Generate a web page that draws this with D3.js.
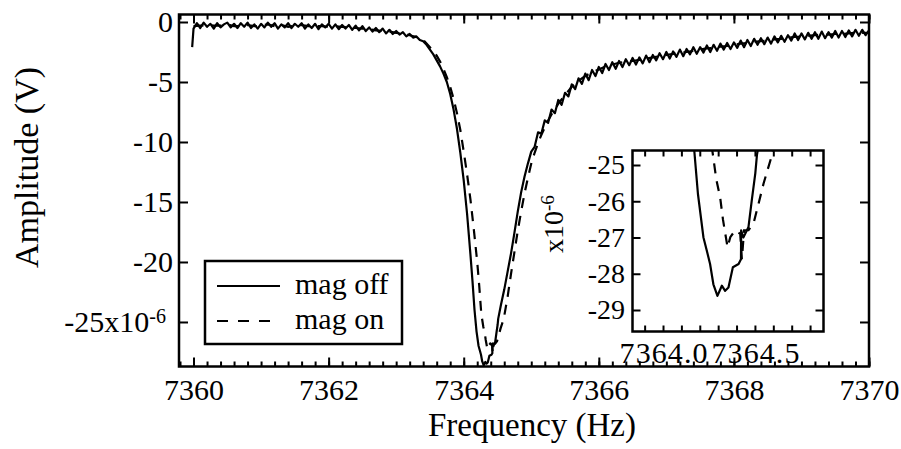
<!DOCTYPE html>
<html><head><meta charset="utf-8">
<script src="https://cdn.jsdelivr.net/npm/d3@7"></script>
<style>
body{margin:0;background:#fff}
svg{display:block}
svg text{font-family:"Liberation Serif","Times New Roman",serif}
</style>
</head><body>
<svg id="c" width="901" height="449"></svg>
<script>
// ---------- data ----------
const freqOff = [
7359.98,
7360.00,7360.05,7360.10,7360.15,7360.20,7360.25,7360.30,7360.35,7360.40,7360.45,
7360.50,7360.55,7360.60,7360.65,7360.70,7360.75,7360.80,7360.85,7360.90,7360.95,
7361.00,7361.05,7361.10,7361.15,7361.20,7361.25,7361.30,7361.35,7361.40,7361.45,
7361.50,7361.55,7361.60,7361.65,7361.70,7361.75,7361.80,7361.85,7361.90,7361.95,
7362.00,7362.05,7362.10,7362.15,7362.20,7362.25,7362.30,7362.35,7362.40,7362.45,
7362.50,7362.55,7362.60,7362.65,7362.70,7362.75,7362.80,7362.85,7362.90,7362.95,
7363.00,7363.05,7363.10,7363.15,7363.20,7363.25,7363.30,7363.35,7363.40,
7363.45,7363.50,7363.55,7363.60,7363.65,7363.70,7363.75,7363.80,7363.85,7363.90,
7363.95,7364.00,7364.05,7364.10,7364.13,7364.16,7364.19,7364.22,7364.24,7364.256,
7364.274,7364.296,7364.320,7364.338,7364.356,7364.380,7364.411,7364.424,7364.425,7364.437,
7364.447,7364.465,7364.483,7364.502,7364.511,7364.55,7364.60,7364.65,7364.70,7364.75,
7364.80,7364.85,7364.90,7364.95,7365.00,
7365.05,7365.10,7365.15,7365.20,7365.25,7365.30,7365.35,7365.40,7365.45,7365.50,
7365.55,7365.60,7365.65,7365.70,7365.75,7365.80,7365.85,7365.90,7365.95,7366.00,
7366.05,7366.10,7366.15,7366.20,7366.25,7366.30,7366.35,7366.40,7366.45,7366.50,
7366.55,7366.60,7366.65,7366.70,7366.75,7366.80,7366.85,7366.90,7366.95,7367.00,
7367.05,7367.10,7367.15,7367.20,7367.25,7367.30,7367.35,7367.40,7367.45,7367.50,
7367.55,7367.60,7367.65,7367.70,7367.75,7367.80,7367.85,7367.90,7367.95,7368.00,
7368.05,7368.10,7368.15,7368.20,7368.25,7368.30,7368.35,7368.40,7368.45,7368.50,
7368.55,7368.60,7368.65,7368.70,7368.75,7368.80,7368.85,7368.90,7368.95,7369.00,
7369.05,7369.10,7369.15,7369.20,7369.25,7369.30,7369.35,7369.40,7369.45,7369.50,
7369.55,7369.60,7369.65,7369.70,7369.75,7369.80,7369.85,7369.90,7369.95,7370.00
];
const ampOff = [
-2.1,
-0.55,-0.1,-0.5,-0.05,-0.4,-0.15,-0.55,-0.1,-0.45,-0.2,
-0.05,-0.45,-0.15,-0.5,-0.1,-0.4,-0.05,-0.5,-0.2,-0.55,
-0.15,-0.45,-0.05,-0.4,-0.1,-0.55,-0.2,-0.45,-0.1,-0.5,
-0.15,-0.4,-0.1,-0.55,-0.2,-0.5,-0.15,-0.6,-0.2,-0.45,
-0.15,-0.55,-0.2,-0.6,-0.25,-0.55,-0.25,-0.65,-0.3,-0.7,
-0.35,-0.75,-0.45,-0.8,-0.5,-0.85,-0.55,-0.95,-0.65,-1.0,
-0.75,-1.05,-0.85,-1.2,-1.0,-1.3,-1.2,-1.5,-1.6,
-1.9,-2.3,-2.7,-3.2,-3.7,-4.3,-5.0,-6.0,-7.3,-8.9,
-10.9,-13.2,-16.0,-19.4,-21.6,-24.0,-25.8,-27.0,-27.4,-27.73,
-28.29,-28.61,-28.33,-28.47,-28.38,-27.82,-27.73,-27.6,-26.8,-27.0,
-26.9,-26.71,-25.97,-25.23,-24.72,-23.6,-22.3,-20.8,-19.3,-17.6,
-15.8,-14.2,-12.9,-11.8,-10.8,
-10.4,-9.2,-9.3,-8.2,-8.4,-7.3,-7.6,-6.5,-6.9,-5.9,
-6.2,-5.2,-5.6,-4.7,-5.15,-4.3,-4.85,-4.0,-4.5,-3.75,
-4.25,-3.5,-4.0,-3.35,-3.9,-3.25,-3.75,-3.1,-3.6,-3.0,
-3.55,-2.95,-3.45,-2.8,-3.35,-2.75,-3.2,-2.6,-3.1,-2.5,
-3.05,-2.45,-2.9,-2.3,-2.85,-2.25,-2.7,-2.1,-2.65,-2.1,
-2.55,-1.95,-2.5,-1.9,-2.4,-1.8,-2.3,-1.75,-2.25,-1.7,
-2.15,-1.55,-2.1,-1.5,-2.0,-1.4,-1.9,-1.35,-1.85,-1.3,
-1.8,-1.2,-1.7,-1.15,-1.65,-1.1,-1.55,-0.95,-1.5,-0.95,
-1.45,-0.9,-1.4,-0.85,-1.4,-0.8,-1.35,-0.85,-1.3,-0.75,
-1.3,-0.75,-1.25,-0.7,-1.2,-0.65,-1.15,-0.65,-1.1,-0.7
];
const freqOn = [
7360.0,7360.1,7360.2,7360.3,7360.4,7360.5,7360.6,7360.7,7360.8,7360.9,
7361.0,7361.1,7361.2,7361.3,7361.4,7361.5,7361.6,7361.7,7361.8,7361.9,
7362.0,7362.1,7362.2,7362.3,7362.4,7362.5,7362.6,7362.7,7362.8,7362.9,
7363.0,7363.1,7363.2,7363.3,7363.4,
7363.45,7363.50,7363.55,7363.60,7363.65,7363.70,7363.75,7363.80,7363.85,7363.90,
7363.95,7364.00,7364.05,7364.10,7364.15,7364.20,7364.23,7364.26,7364.29,
7364.311,7364.326,7364.351,7364.366,7364.393,7364.420,7364.429,7364.441,7364.465,7364.493,
7364.520,7364.547,7364.593,7364.65,7364.70,7364.75,7364.80,7364.85,7364.90,7364.95,
7365.00,7365.05,7365.10,7365.15,7365.20,7365.25,7365.30,7365.35,7365.40,
7365.5,7365.6,7365.7,7365.8,7365.9,7366.0,7366.1,7366.2,7366.3,7366.4,
7366.5,7366.6,7366.7,7366.8,7366.9,7367.0,7367.1,7367.2,7367.3,7367.4,
7367.5,7367.6,7367.7,7367.8,7367.9,7368.0,7368.1,7368.2,7368.3,7368.4,
7368.5,7368.6,7368.7,7368.8,7368.9,7369.0,7369.1,7369.2,7369.3,7369.4,
7369.5,7369.6,7369.7,7369.8,7369.9,7370.0
];
const ampOn = [
-0.35,-0.3,-0.25,-0.3,-0.3,-0.2,-0.35,-0.35,-0.25,-0.35,
-0.3,-0.2,-0.35,-0.25,-0.4,-0.3,-0.25,-0.35,-0.35,-0.35,
-0.4,-0.35,-0.4,-0.45,-0.5,-0.55,-0.6,-0.7,-0.75,-0.8,
-0.9,-0.95,-1.1,-1.25,-1.5,
-1.8,-2.1,-2.4,-2.8,-3.3,-3.9,-4.6,-5.4,-6.4,-7.6,
-9.0,-10.8,-12.7,-14.8,-17.3,-20.0,-22.0,-24.3,-25.4,
-25.9,-26.5,-27.27,-26.99,-26.8,-26.9,-27.6,-26.8,-26.8,-26.6,
-26.06,-25.51,-24.72,-22.9,-21.0,-19.2,-17.4,-15.8,-14.3,-13.0,
-11.8,-10.9,-10.1,-9.4,-8.8,-8.2,-7.7,-7.3,-6.8,
-6.1,-5.4,-4.9,-4.5,-4.2,-3.95,-3.7,-3.55,-3.4,-3.3,
-3.25,-3.15,-3.05,-2.95,-2.85,-2.75,-2.65,-2.55,-2.5,-2.4,
-2.3,-2.2,-2.15,-2.05,-2.0,-1.9,-1.8,-1.75,-1.65,-1.6,
-1.55,-1.45,-1.4,-1.3,-1.25,-1.2,-1.15,-1.1,-1.05,-1.05,
-1.0,-1.0,-0.95,-0.9,-0.9,-0.9
];
const xMajorTicks = [7360,7362,7364,7366,7368,7370];
const yMainTicks = [0,-5,-10,-15,-20,-25];
const insetXTicks = [7364.0,7364.5];
const insetYTicks = [-25,-26,-27,-28,-29];
const seriesLabels = ["mag off","mag on"];
const xTitle = "Frequency (Hz)";
const yTitle = "Amplitude (V)";

// ---------- drawing ----------
const FONT = '"Liberation Serif","Times New Roman",serif';
const svg = d3.select("#c");
const M = {l:179, r:869, t:14.5, b:366.5};
const I = {l:632.5, r:823.5, t:150.5, b:331.5};
const x = d3.scaleLinear().domain([7359.785,7370]).range([M.l,M.r]);
const y = d3.scaleLinear().domain([0.625,-28.71]).range([M.t,M.b]);
const xi = d3.scaleLinear().domain([7363.834,7364.873]).range([I.l,I.r]);
const yi = d3.scaleLinear().domain([-24.6,-29.593]).range([I.t,I.b]);

const offPts = d3.zip(freqOff, ampOff);
const onPts = d3.zip(freqOn, ampOn);
const DASH = "10,8";

const defs = svg.append("defs");
defs.append("clipPath").attr("id","mainClip").append("rect")
  .attr("x",M.l).attr("y",M.t).attr("width",M.r-M.l).attr("height",M.b-M.t);
defs.append("clipPath").attr("id","insetClip").append("rect")
  .attr("x",I.l).attr("y",I.t).attr("width",I.r-I.l).attr("height",I.b-I.t);

function styleAxis(g, fs){
  g.attr("font-family",FONT).attr("font-size",fs);
  g.select(".domain").remove();
  g.selectAll("line").attr("stroke","#000").attr("stroke-width",2);
  g.selectAll("text").attr("fill","#000").attr("font-family",FONT).attr("font-size",fs);
}

// main curves
const line = d3.line().x(d=>x(d[0])).y(d=>y(d[1]));
const mg = svg.append("g").attr("clip-path","url(#mainClip)");
mg.append("path").datum(onPts).attr("d",line).attr("fill","none")
  .attr("stroke","#000").attr("stroke-width",2.2).attr("stroke-dasharray",DASH);
mg.append("path").datum(offPts).attr("d",line).attr("fill","none")
  .attr("stroke","#000").attr("stroke-width",2.2).attr("stroke-linejoin","round");

// main axes
const minorX = d3.range(7359.8, 7370.001, 0.2);
svg.append("g").attr("transform",`translate(0,${M.b})`)
  .call(d3.axisBottom(x).tickValues(minorX).tickSize(-5).tickFormat(""))
  .call(g=>styleAxis(g,30));
svg.append("g").attr("transform",`translate(0,${M.b})`)
  .call(d3.axisBottom(x).tickValues(xMajorTicks).tickSize(-9).tickPadding(12).tickFormat(d=>String(d)))
  .call(g=>styleAxis(g,30));
svg.append("g").attr("transform",`translate(0,${M.t})`)
  .call(d3.axisTop(x).tickValues(minorX).tickSize(-5).tickFormat(""))
  .call(g=>styleAxis(g,30));
svg.append("g").attr("transform",`translate(0,${M.t})`)
  .call(d3.axisTop(x).tickValues(xMajorTicks).tickSize(-9).tickFormat(""))
  .call(g=>styleAxis(g,30));
const yl = svg.append("g").attr("transform",`translate(${M.l},0)`)
  .call(d3.axisLeft(y).tickValues(yMainTicks).tickSize(-9).tickPadding(6)
    .tickFormat(d=> d===-25 ? "-25x10" : String(d)))
  .call(g=>styleAxis(g,30));
yl.selectAll(".tick text").filter(d=>d===-25).each(function(){
  const t = d3.select(this).attr("x",-13);
  t.append("tspan").attr("dy","-0.45em").attr("font-size",20).text("-6");
});
svg.append("g").attr("transform",`translate(${M.r},0)`)
  .call(d3.axisRight(y).tickValues(yMainTicks).tickSize(-9).tickFormat(""))
  .call(g=>styleAxis(g,30));

svg.append("rect").attr("x",M.l).attr("y",M.t).attr("width",M.r-M.l).attr("height",M.b-M.t)
  .attr("fill","none").attr("stroke","#000").attr("stroke-width",2.5);

// axis titles
svg.append("text").attr("x",532).attr("y",436).attr("text-anchor","middle")
  .attr("font-family",FONT).attr("font-size",33).text(xTitle);
svg.append("text").attr("transform","translate(38,167.5) rotate(-90)").attr("text-anchor","middle")
  .attr("font-family",FONT).attr("font-size",34).text(yTitle);

// legend
const lg = svg.append("g");
lg.append("rect").attr("x",205).attr("y",261).attr("width",197).attr("height",83)
  .attr("fill","#fff").attr("stroke","#000").attr("stroke-width",2.5);
lg.append("line").attr("x1",217).attr("x2",280).attr("y1",286).attr("y2",286)
  .attr("stroke","#000").attr("stroke-width",2.2);
lg.append("line").attr("x1",217).attr("x2",272).attr("y1",321).attr("y2",321)
  .attr("stroke","#000").attr("stroke-width",2.2).attr("stroke-dasharray","11,10");
lg.append("text").attr("x",295).attr("y",294).attr("font-family",FONT).attr("font-size",30).text(seriesLabels[0]);
lg.append("text").attr("x",295).attr("y",329).attr("font-family",FONT).attr("font-size",30).text(seriesLabels[1]);

// inset
svg.append("rect").attr("x",I.l).attr("y",I.t).attr("width",I.r-I.l).attr("height",I.b-I.t).attr("fill","#fff");
const iline = d3.line().x(d=>xi(d[0])).y(d=>yi(d[1]));
const ig = svg.append("g").attr("clip-path","url(#insetClip)");
ig.append("path").datum(onPts).attr("d",iline).attr("fill","none")
  .attr("stroke","#000").attr("stroke-width",2.2).attr("stroke-dasharray",DASH);
ig.append("path").datum(offPts).attr("d",iline).attr("fill","none")
  .attr("stroke","#000").attr("stroke-width",2.2).attr("stroke-linejoin","round");

const insetMinorX = d3.range(7363.9, 7364.86, 0.1);
svg.append("g").attr("transform",`translate(0,${I.b})`)
  .call(d3.axisBottom(xi).tickValues(insetMinorX).tickSize(-6).tickFormat(""))
  .call(g=>styleAxis(g,30));
svg.append("g").attr("transform",`translate(0,${I.t})`)
  .call(d3.axisTop(xi).tickValues(insetMinorX).tickSize(-6).tickFormat(""))
  .call(g=>styleAxis(g,30));
const ixl = svg.append("g").attr("transform",`translate(0,${I.b})`)
  .call(d3.axisBottom(xi).tickValues(insetXTicks).tickSize(0).tickPadding(10).tickFormat(d3.format(".1f")))
  .call(g=>styleAxis(g,30));
ixl.selectAll(".tick text").attr("textLength",88).attr("lengthAdjust","spacing");
svg.append("g").attr("transform",`translate(${I.l},0)`)
  .call(d3.axisLeft(yi).tickValues(insetYTicks).tickSize(-8).tickPadding(7.5).tickFormat(d=>String(d)))
  .call(g=>styleAxis(g,28));
svg.append("g").attr("transform",`translate(${I.r},0)`)
  .call(d3.axisRight(yi).tickValues(insetYTicks).tickSize(-8).tickFormat(""))
  .call(g=>styleAxis(g,28));
svg.append("rect").attr("x",I.l).attr("y",I.t).attr("width",I.r-I.l).attr("height",I.b-I.t)
  .attr("fill","none").attr("stroke","#000").attr("stroke-width",2.5);

const it = svg.append("text").attr("transform","translate(563,253) rotate(-90)")
  .attr("font-family",FONT).attr("font-size",28).text("x10");
it.append("tspan").attr("dy","-0.45em").attr("font-size",19).text("-6");
</script>
</body></html>
